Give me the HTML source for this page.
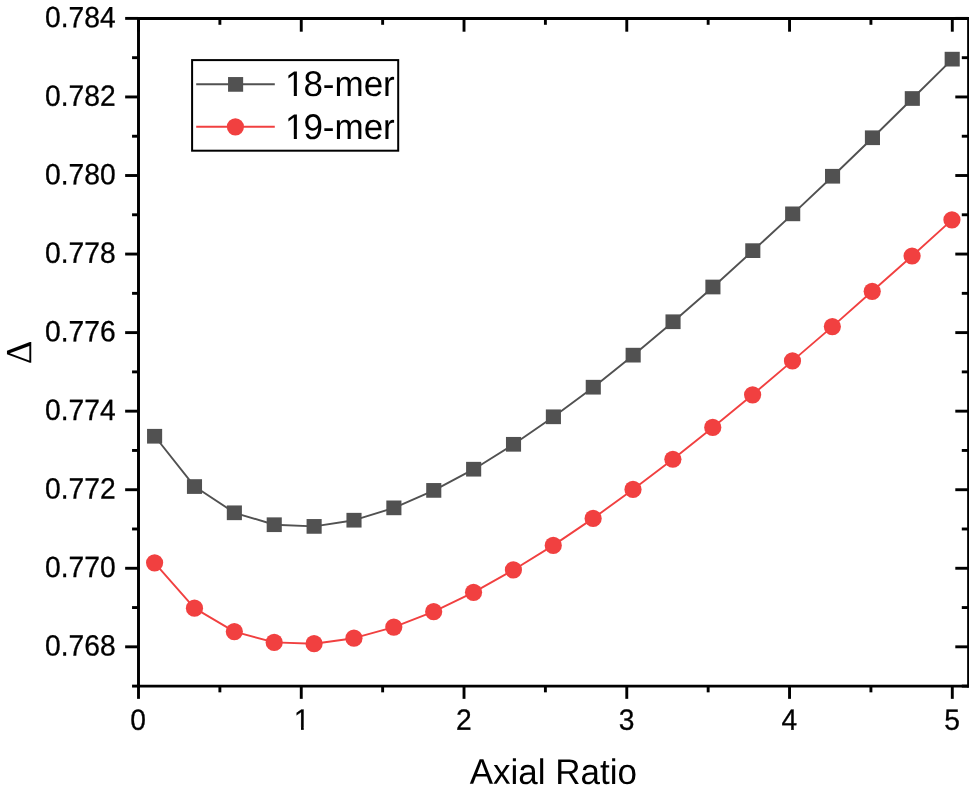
<!DOCTYPE html>
<html lang="en">
<head>
<meta charset="utf-8">
<title>Axial Ratio chart</title>
<style>
html,body{margin:0;padding:0;background:#fff;}
body{width:969px;height:795px;overflow:hidden;}
svg{display:block;}
text{font-family:"Liberation Sans",sans-serif;fill:#000;}
.tl{font-size:28.2px;stroke:#000;stroke-width:0.3px;}
.ti{font-size:35px;}
.lg{font-size:35px;}
</style>
</head>
<body>
<svg width="969" height="795" viewBox="0 0 969 795">
<rect x="0" y="0" width="969" height="795" fill="#ffffff"/>
<polyline points="154.80,436.25 194.68,486.55 234.56,512.80 274.44,524.72 314.32,526.40 354.20,520.20 394.08,507.85 433.96,490.40 473.84,469.20 513.72,444.30 553.60,416.80 593.48,387.20 633.36,355.15 673.24,321.75 713.12,287.00 753.00,250.65 792.88,213.85 832.76,176.25 872.64,137.75 912.52,98.50 952.40,59.15" fill="none" stroke="#515151" stroke-width="1.90" stroke-linejoin="round"/>
<g fill="#515151">
<rect x="147.05" y="428.90" width="15.10" height="14.70"/>
<rect x="186.93" y="479.20" width="15.10" height="14.70"/>
<rect x="226.81" y="505.45" width="15.10" height="14.70"/>
<rect x="266.69" y="517.37" width="15.10" height="14.70"/>
<rect x="306.57" y="519.05" width="15.10" height="14.70"/>
<rect x="346.45" y="512.85" width="15.10" height="14.70"/>
<rect x="386.33" y="500.50" width="15.10" height="14.70"/>
<rect x="426.21" y="483.05" width="15.10" height="14.70"/>
<rect x="466.09" y="461.85" width="15.10" height="14.70"/>
<rect x="505.97" y="436.95" width="15.10" height="14.70"/>
<rect x="545.85" y="409.45" width="15.10" height="14.70"/>
<rect x="585.73" y="379.85" width="15.10" height="14.70"/>
<rect x="625.61" y="347.80" width="15.10" height="14.70"/>
<rect x="665.49" y="314.40" width="15.10" height="14.70"/>
<rect x="705.37" y="279.65" width="15.10" height="14.70"/>
<rect x="745.25" y="243.30" width="15.10" height="14.70"/>
<rect x="785.13" y="206.50" width="15.10" height="14.70"/>
<rect x="825.01" y="168.90" width="15.10" height="14.70"/>
<rect x="864.89" y="130.40" width="15.10" height="14.70"/>
<rect x="904.77" y="91.15" width="15.10" height="14.70"/>
<rect x="944.65" y="51.80" width="15.10" height="14.70"/>
</g>
<polyline points="154.60,562.80 194.47,608.15 234.34,631.60 274.20,642.40 314.07,643.70 353.94,638.20 393.81,627.10 433.67,611.65 473.54,592.30 513.41,569.95 553.27,545.40 593.14,518.40 633.01,489.45 672.88,459.25 712.75,427.40 752.61,394.80 792.48,360.90 832.35,326.60 872.22,291.30 912.08,256.00 951.95,219.85" fill="none" stroke="#F14040" stroke-width="1.90" stroke-linejoin="round"/>
<g fill="#F14040">
<circle cx="154.60" cy="562.80" r="8.60"/>
<circle cx="194.47" cy="608.15" r="8.60"/>
<circle cx="234.34" cy="631.60" r="8.60"/>
<circle cx="274.20" cy="642.40" r="8.60"/>
<circle cx="314.07" cy="643.70" r="8.60"/>
<circle cx="353.94" cy="638.20" r="8.60"/>
<circle cx="393.81" cy="627.10" r="8.60"/>
<circle cx="433.67" cy="611.65" r="8.60"/>
<circle cx="473.54" cy="592.30" r="8.60"/>
<circle cx="513.41" cy="569.95" r="8.60"/>
<circle cx="553.27" cy="545.40" r="8.60"/>
<circle cx="593.14" cy="518.40" r="8.60"/>
<circle cx="633.01" cy="489.45" r="8.60"/>
<circle cx="672.88" cy="459.25" r="8.60"/>
<circle cx="712.75" cy="427.40" r="8.60"/>
<circle cx="752.61" cy="394.80" r="8.60"/>
<circle cx="792.48" cy="360.90" r="8.60"/>
<circle cx="832.35" cy="326.60" r="8.60"/>
<circle cx="872.22" cy="291.30" r="8.60"/>
<circle cx="912.08" cy="256.00" r="8.60"/>
<circle cx="951.95" cy="219.85" r="8.60"/>
</g>
<g stroke="#000" stroke-width="2.95" fill="none" stroke-linecap="butt">
<line x1="138.50" y1="16.92" x2="138.50" y2="687.58"/>
<line x1="968.60" y1="16.92" x2="968.60" y2="687.58"/>
<line x1="137.03" y1="18.40" x2="970.08" y2="18.40"/>
<line x1="137.03" y1="686.10" x2="970.08" y2="686.10"/>
</g>
<g stroke="#000" stroke-width="2.90" fill="none">
<line x1="125.15" y1="18.40" x2="138.50" y2="18.40"/>
<line x1="955.30" y1="18.40" x2="968.60" y2="18.40"/>
<line x1="132.05" y1="57.68" x2="138.50" y2="57.68"/>
<line x1="961.80" y1="57.68" x2="968.60" y2="57.68"/>
<line x1="125.15" y1="96.95" x2="138.50" y2="96.95"/>
<line x1="955.30" y1="96.95" x2="968.60" y2="96.95"/>
<line x1="132.05" y1="136.23" x2="138.50" y2="136.23"/>
<line x1="961.80" y1="136.23" x2="968.60" y2="136.23"/>
<line x1="125.15" y1="175.51" x2="138.50" y2="175.51"/>
<line x1="955.30" y1="175.51" x2="968.60" y2="175.51"/>
<line x1="132.05" y1="214.78" x2="138.50" y2="214.78"/>
<line x1="961.80" y1="214.78" x2="968.60" y2="214.78"/>
<line x1="125.15" y1="254.06" x2="138.50" y2="254.06"/>
<line x1="955.30" y1="254.06" x2="968.60" y2="254.06"/>
<line x1="132.05" y1="293.34" x2="138.50" y2="293.34"/>
<line x1="961.80" y1="293.34" x2="968.60" y2="293.34"/>
<line x1="125.15" y1="332.61" x2="138.50" y2="332.61"/>
<line x1="955.30" y1="332.61" x2="968.60" y2="332.61"/>
<line x1="132.05" y1="371.89" x2="138.50" y2="371.89"/>
<line x1="961.80" y1="371.89" x2="968.60" y2="371.89"/>
<line x1="125.15" y1="411.16" x2="138.50" y2="411.16"/>
<line x1="955.30" y1="411.16" x2="968.60" y2="411.16"/>
<line x1="132.05" y1="450.44" x2="138.50" y2="450.44"/>
<line x1="961.80" y1="450.44" x2="968.60" y2="450.44"/>
<line x1="125.15" y1="489.72" x2="138.50" y2="489.72"/>
<line x1="955.30" y1="489.72" x2="968.60" y2="489.72"/>
<line x1="132.05" y1="528.99" x2="138.50" y2="528.99"/>
<line x1="961.80" y1="528.99" x2="968.60" y2="528.99"/>
<line x1="125.15" y1="568.27" x2="138.50" y2="568.27"/>
<line x1="955.30" y1="568.27" x2="968.60" y2="568.27"/>
<line x1="132.05" y1="607.55" x2="138.50" y2="607.55"/>
<line x1="961.80" y1="607.55" x2="968.60" y2="607.55"/>
<line x1="125.15" y1="646.82" x2="138.50" y2="646.82"/>
<line x1="955.30" y1="646.82" x2="968.60" y2="646.82"/>
<line x1="132.05" y1="686.10" x2="138.50" y2="686.10"/>
<line x1="961.80" y1="686.10" x2="968.60" y2="686.10"/>
<line x1="138.50" y1="686.10" x2="138.50" y2="698.85"/>
<line x1="138.50" y1="18.40" x2="138.50" y2="31.70"/>
<line x1="219.88" y1="686.10" x2="219.88" y2="692.35"/>
<line x1="219.88" y1="18.40" x2="219.88" y2="24.80"/>
<line x1="301.26" y1="686.10" x2="301.26" y2="698.85"/>
<line x1="301.26" y1="18.40" x2="301.26" y2="31.70"/>
<line x1="382.64" y1="686.10" x2="382.64" y2="692.35"/>
<line x1="382.64" y1="18.40" x2="382.64" y2="24.80"/>
<line x1="464.02" y1="686.10" x2="464.02" y2="698.85"/>
<line x1="464.02" y1="18.40" x2="464.02" y2="31.70"/>
<line x1="545.40" y1="686.10" x2="545.40" y2="692.35"/>
<line x1="545.40" y1="18.40" x2="545.40" y2="24.80"/>
<line x1="626.78" y1="686.10" x2="626.78" y2="698.85"/>
<line x1="626.78" y1="18.40" x2="626.78" y2="31.70"/>
<line x1="708.16" y1="686.10" x2="708.16" y2="692.35"/>
<line x1="708.16" y1="18.40" x2="708.16" y2="24.80"/>
<line x1="789.54" y1="686.10" x2="789.54" y2="698.85"/>
<line x1="789.54" y1="18.40" x2="789.54" y2="31.70"/>
<line x1="870.92" y1="686.10" x2="870.92" y2="692.35"/>
<line x1="870.92" y1="18.40" x2="870.92" y2="24.80"/>
<line x1="952.30" y1="686.10" x2="952.30" y2="698.85"/>
<line x1="952.30" y1="18.40" x2="952.30" y2="31.70"/>
</g>
<g class="tl" text-anchor="end">
<text transform="translate(115.6,27.15) rotate(0.03) scale(1,1.040)">0.784</text>
<text transform="translate(115.6,105.70) rotate(0.03) scale(1,1.040)">0.782</text>
<text transform="translate(115.6,184.26) rotate(0.03) scale(1,1.040)">0.780</text>
<text transform="translate(115.6,262.81) rotate(0.03) scale(1,1.040)">0.778</text>
<text transform="translate(115.6,341.36) rotate(0.03) scale(1,1.040)">0.776</text>
<text transform="translate(115.6,419.91) rotate(0.03) scale(1,1.040)">0.774</text>
<text transform="translate(115.6,498.47) rotate(0.03) scale(1,1.040)">0.772</text>
<text transform="translate(115.6,577.02) rotate(0.03) scale(1,1.040)">0.770</text>
<text transform="translate(115.6,655.57) rotate(0.03) scale(1,1.040)">0.768</text>
</g>
<g class="tl" text-anchor="middle">
<g transform="translate(138.20,729.8) rotate(0.03) scale(1,1.040)"><text>0</text></g>
<g transform="translate(301.86,729.8) rotate(0.03) scale(1,1.040)"><text>1</text><rect x="-7.016" y="-2.807" width="6.127" height="3.507" fill="#fff" stroke="none"/><rect x="1.880" y="-2.807" width="5.962" height="3.507" fill="#fff" stroke="none"/></g>
<g transform="translate(463.72,729.8) rotate(0.03) scale(1,1.040)"><text>2</text></g>
<g transform="translate(626.48,729.8) rotate(0.03) scale(1,1.040)"><text>3</text></g>
<g transform="translate(789.24,729.8) rotate(0.03) scale(1,1.040)"><text>4</text></g>
<g transform="translate(952.00,729.8) rotate(0.03) scale(1,1.040)"><text>5</text></g>
</g>
<text class="ti" text-anchor="middle" transform="translate(553.3,783.9) rotate(0.03) scale(1,1.020)">Axial Ratio</text>
<text class="ti" text-anchor="middle" transform="translate(31.2,352.45) rotate(-89.97)" style="font-family:'Liberation Serif',serif;font-size:36.8px">Δ</text>
<rect x="192.1" y="60.1" width="206.1" height="90.6" fill="#fff" stroke="#000" stroke-width="2"/>
<line x1="196.2" y1="84.2" x2="274.8" y2="84.2" stroke="#515151" stroke-width="1.90"/>
<rect x="228.05" y="77.05" width="15.10" height="14.70" fill="#515151"/>
<line x1="196.2" y1="126.8" x2="274.8" y2="126.8" stroke="#F14040" stroke-width="1.90"/>
<circle cx="235.4" cy="126.85" r="8.60" fill="#F14040"/>
<g class="lg" transform="translate(283.9,95.9) rotate(0.03) scale(1,1.020)"><text dx="1.1 -1.1">18-mer</text><rect x="2.125" y="-3.215" width="7.776" height="3.915" fill="#fff" stroke="none"/><rect x="12.995" y="-3.215" width="7.571" height="3.915" fill="#fff" stroke="none"/></g>
<g class="lg" transform="translate(283.9,138.9) rotate(0.03) scale(1,1.020)"><text dx="1.1 -1.1">19-mer</text><rect x="2.125" y="-3.215" width="7.776" height="3.915" fill="#fff" stroke="none"/><rect x="12.995" y="-3.215" width="7.571" height="3.915" fill="#fff" stroke="none"/></g>
</svg>
</body>
</html>
